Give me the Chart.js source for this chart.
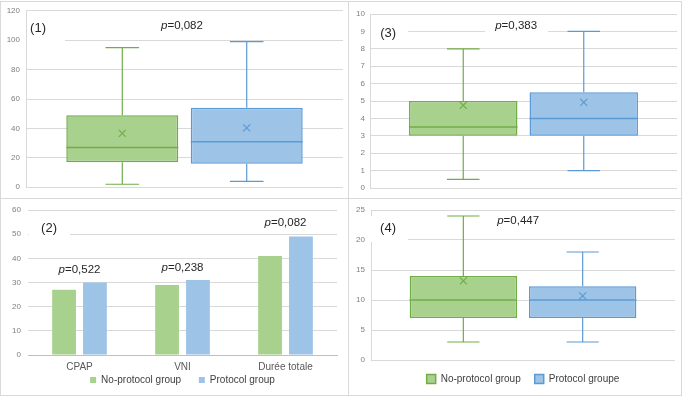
<!DOCTYPE html>
<html>
<head>
<meta charset="utf-8">
<script src="https://cdn.jsdelivr.net/npm/chart.js@4.4.1/dist/chart.umd.min.js"></script>
<style>
  body { margin: 0; background: #fff; }
  #wrap { position: relative; width: 685px; height: 397px; overflow: hidden; background: #fff; }
  canvas, .line { position: absolute; }
  .line { background: #d9d9d9; }
</style>
</head>
<body>
<div id="wrap">
  <canvas id="c1" width="348" height="198" style="left:0;top:0"></canvas>
  <canvas id="c3" width="333" height="198" style="left:348px;top:0"></canvas>
  <canvas id="c2" width="348" height="197" style="left:0;top:198px"></canvas>
  <canvas id="c4" width="333" height="197" style="left:348px;top:198px"></canvas>
  <div class="line" style="left:0;top:1px;width:682px;height:1px"></div>
  <div class="line" style="left:0;top:395px;width:682px;height:1px"></div>
  <div class="line" style="left:0;top:1px;width:1px;height:395px"></div>
  <div class="line" style="left:681px;top:1px;width:1px;height:395px"></div>
  <div class="line" style="left:348px;top:1px;width:1px;height:395px"></div>
  <div class="line" style="left:0;top:198px;width:682px;height:1px"></div>
</div>
<script>
// box plots: [min, Q1, median, Q3, max]
const groups = ["No-protocol group", "Protocol groupe"];
const box1NoProtocol = [2, 17, 27, 49, 95];
const box1Protocol = [4, 16, 31, 54, 99];
const box1Means = [36.6, 40.4];
const box3NoProtocol = [0.5, 3, 3.5, 5, 8];
const box3Protocol = [1, 3, 4, 5.5, 9];
const box3Means = [4.75, 4.92];
const box4NoProtocol = [3, 7, 10, 14, 24];
const box4Protocol = [3, 7, 10, 12.3, 18];
const box4Means = [13.2, 10.7];
// y axis: min, max, step
const yRange1 = [0, 120, 20];
const yRange3 = [0, 10, 1];
const yRange4 = [0, 25, 5];
const yRange2 = [0, 60, 10];
// bar chart (2)
const barCategories = ["CPAP", "VNI", "Durée totale"];
const barLegend = ["No-protocol group", "Protocol group"];
const barNoProtocol = [27, 29, 41];
const barProtocol = [30, 31, 49];
const pBars = ["0,522", "0,238", "0,082"];
const pBox1 = "0,082";
const pBox3 = "0,383";
const pBox4 = "0,447";

const GREEN = "#a9d18e", GREEN_LINE = "#70ad47";
const BLUE = "#9dc3e6", BLUE_LINE = "#5b9bd5";
const FONT = "'Liberation Sans', Arial, sans-serif";

Chart.defaults.font.family = FONT;
Chart.defaults.animation = false;
Chart.defaults.plugins.tooltip.enabled = false;

const boxPlugin = {
  id: "boxWhiskers",
  afterDatasetsDraw(chart) {
    const y = chart.scales.y, ctx = chart.ctx;
    chart.data.datasets.forEach((ds, i) => {
      if (!ds.stats) return;
      chart.getDatasetMeta(i).data.forEach((bar, j) => {
        const s = ds.stats[j], mean = ds.means[j];
        const x = bar.x, half = bar.width / 2, cap = bar.width * 0.15;
        const py = v => y.getPixelForValue(v);
        ctx.save();
        ctx.strokeStyle = ds.borderColor;
        ctx.lineWidth = 1.2;
        ctx.beginPath();
        ctx.moveTo(x, py(s[3])); ctx.lineTo(x, py(s[4]));
        ctx.moveTo(x - cap, py(s[4])); ctx.lineTo(x + cap, py(s[4]));
        ctx.moveTo(x, py(s[1])); ctx.lineTo(x, py(s[0]));
        ctx.moveTo(x - cap, py(s[0])); ctx.lineTo(x + cap, py(s[0]));
        ctx.stroke();
        ctx.lineWidth = 1.5;
        ctx.beginPath();
        ctx.moveTo(x - half, py(s[2])); ctx.lineTo(x + half, py(s[2]));
        ctx.stroke();
        const my = py(mean), r = 3.5;
        ctx.lineWidth = 1.2;
        ctx.beginPath();
        ctx.moveTo(x - r, my - r); ctx.lineTo(x + r, my + r);
        ctx.moveTo(x + r, my - r); ctx.lineTo(x - r, my + r);
        ctx.stroke();
        ctx.restore();
      });
    });
  }
};

function notePos(chart, n) {
  const ca = chart.chartArea;
  const x = n.cat !== undefined ? chart.scales.x.getPixelForValue(n.cat)
    : ca.left + n.fx * (ca.right - ca.left);
  return { x, y: chart.scales.y.getPixelForValue(n.v) };
}

const notesPlugin = {
  id: "notes",
  beforeDatasetsDraw(chart, args, opts) {
    const ctx = chart.ctx;
    (opts.items || []).forEach(n => {
      if (!n.mask) return;
      const p = notePos(chart, n);
      ctx.fillStyle = "#fff";
      ctx.fillRect(p.x + n.mask[0], p.y + n.mask[1], n.mask[2], n.mask[3]);
    });
  },
  afterDatasetsDraw(chart, args, opts) {
    const ctx = chart.ctx;
    (opts.items || []).forEach(n => {
      const p = notePos(chart, n);
      ctx.save();
      ctx.fillStyle = "#262626";
      ctx.textBaseline = "middle";
      if (n.p) {
        ctx.font = "italic 11.5px " + FONT;
        const w1 = ctx.measureText("p").width;
        ctx.font = "11.5px " + FONT;
        const rest = "=" + n.p;
        const w2 = ctx.measureText(rest).width;
        const x0 = p.x - (w1 + w2) / 2;
        ctx.textAlign = "left";
        ctx.font = "italic 11.5px " + FONT;
        ctx.fillText("p", x0, p.y);
        ctx.font = "11.5px " + FONT;
        ctx.fillText(rest, x0 + w1, p.y);
      } else {
        ctx.font = "13px " + FONT;
        ctx.textAlign = "center";
        ctx.fillText(n.t, p.x, p.y);
      }
      ctx.restore();
    });
  }
};

function boxDataset(label, stats, mean, fill, line) {
  return {
    label: label,
    data: [[stats[1], stats[3]]],
    stats: [stats],
    means: [mean],
    backgroundColor: fill,
    borderColor: line,
    borderWidth: 1.5,
    borderSkipped: false,
    barPercentage: 0.9,
    categoryPercentage: 0.785,
  };
}

function boxChart(id, noProt, prot, means, range, pad, axisW, tickPad, notes, legend) {
  return new Chart(document.getElementById(id), {
    type: "bar",
    data: {
      labels: [""],
      datasets: [
        boxDataset(groups[0], noProt, means[0], GREEN, GREEN_LINE),
        boxDataset(groups[1], prot, means[1], BLUE, BLUE_LINE),
      ],
    },
    options: {
      responsive: false,
      layout: { padding: pad },
      plugins: {
        legend: legend
          ? {
              display: true,
              position: "bottom",
              fullSize: false,
              labels: { boxWidth: 9, boxHeight: 9, padding: 14, color: "#404040", font: { size: 10 } },
            }
          : { display: false },
        notes: { items: notes },
      },
      scales: {
        x: { display: false },
        y: {
          min: range[0],
          max: range[1],
          afterFit: s => { s.width = axisW; },
          ticks: { stepSize: range[2], padding: tickPad, color: "#7f7f7f", font: { size: 8 } },
          grid: { color: "#d9d9d9", drawTicks: false },
          border: { display: true, color: "#d9d9d9" },
        },
      },
    },
    plugins: [boxPlugin, notesPlugin],
  });
}

boxChart("c1", box1NoProtocol, box1Protocol, box1Means, yRange1,
  { top: 10, bottom: 10, left: 0, right: 5 }, 26, 6,
  [
    { t: "(1)", fx: 0.038, v: 107.9, mask: [-11, -12, 38, 28] },
    { p: pBox1, fx: 0.492, v: 109.9 },
  ], false);

boxChart("c3", box3NoProtocol, box3Protocol, box3Means, yRange3,
  { top: 14, bottom: 10, left: 0, right: 4 }, 22, 5,
  [
    { t: "(3)", fx: 0.059, v: 8.9, mask: [-17, -13, 37, 26] },
    { p: pBox3, fx: 0.476, v: 9.31, mask: [-31, -10, 63, 18] },
  ], false);

boxChart("c4", box4NoProtocol, box4Protocol, box4Means, yRange4,
  { top: 12, bottom: 1, left: 0, right: 6 }, 23, 6,
  [
    { t: "(4)", fx: 0.056, v: 22, mask: [-17, -12, 37, 26] },
    { p: pBox4, fx: 0.484, v: 23.2 },
  ], true);

const defaultLabels = Chart.defaults.plugins.legend.labels.generateLabels;

new Chart(document.getElementById("c2"), {
  type: "bar",
  data: {
    labels: barCategories,
    datasets: [
      { label: barLegend[0], data: barNoProtocol, backgroundColor: GREEN, barPercentage: 0.77, categoryPercentage: 0.6 },
      { label: barLegend[1], data: barProtocol, backgroundColor: BLUE, barPercentage: 0.77, categoryPercentage: 0.6 },
    ],
  },
  options: {
    responsive: false,
    layout: { padding: { top: 12, bottom: 0, left: 0, right: 11 } },
    plugins: {
      legend: {
        position: "bottom",
        fullSize: false,
        labels: {
          boxWidth: 6, boxHeight: 6, padding: 1, color: "#404040", font: { size: 10 },
          // wider gap after the first entry, as in the original legend
          generateLabels: chart => defaultLabels(chart).map((l, i) =>
            i === 0 ? Object.assign(l, { text: l.text + "      " }) : l),
        },
      },
      notes: {
        items: [
          { t: "(2)", fx: 0.068, v: 52.5, mask: [-20, -12, 41, 26] },
          { p: pBars[0], cat: 0, v: 35.2 },
          { p: pBars[1], cat: 1, v: 36 },
          { p: pBars[2], cat: 2, v: 54.6 },
        ],
      },
    },
    scales: {
      x: {
        afterFit: s => { s.height = 19; },
        ticks: { padding: 6, color: "#595959", font: { size: 10 }, maxRotation: 0 },
        grid: { display: false, drawTicks: false },
        border: { color: "#bfbfbf" },
      },
      y: {
        min: yRange2[0],
        max: yRange2[1],
        afterFit: s => { s.width = 28; },
        ticks: { stepSize: yRange2[2], padding: 7, color: "#7f7f7f", font: { size: 8 } },
        grid: { color: "#d9d9d9", drawTicks: false },
        border: { display: false },
      },
    },
  },
  plugins: [notesPlugin],
});
</script>
</body>
</html>
